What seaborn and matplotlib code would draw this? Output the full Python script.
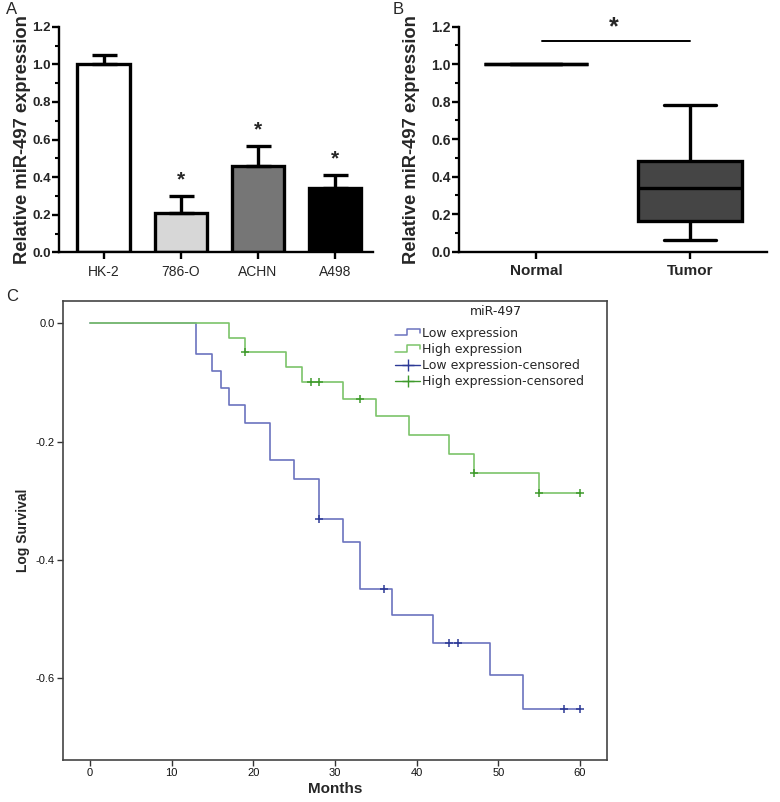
import numpy as np
import pandas as pd
import matplotlib
matplotlib.use("Agg")
import matplotlib.pyplot as plt
from matplotlib.ticker import AutoMinorLocator, MultipleLocator
from matplotlib.legend_handler import HandlerBase
from matplotlib.lines import Line2D
import seaborn as sns

# ---------------- data ----------------
# Panel A
cell_lines = ["HK-2", "786-O", "ACHN", "A498"]
cell_expr = [1.00, 0.21, 0.46, 0.34]
cell_err = [0.05, 0.09, 0.105, 0.07]
cell_sig = ["", "*", "*", "*"]
bar_colors = ["#ffffff", "#d7d7d7", "#767676", "#000000"]

# Panel B (five-number summaries)
tissue_groups = ["Normal", "Tumor"]
normal_summary = [1.0, 1.0, 1.0, 1.0, 1.0]
tumor_summary = [0.062, 0.165, 0.338, 0.483, 0.781]
box_colors = ["#ffffff", "#454545"]

# Panel C: Kaplan-Meier log survival
low_times = [0, 13, 15, 16, 17, 19, 22, 25, 28, 31, 33, 37, 42, 49, 53, 60]
low_logsurv = [0.0, -0.052, -0.081, -0.109, -0.138, -0.169, -0.230, -0.263,
               -0.331, -0.369, -0.449, -0.493, -0.541, -0.595, -0.652, -0.652]
low_censored = [28, 36, 44, 45, 58, 60]

high_times = [0, 17, 19, 24, 26, 31, 35, 39, 44, 47, 55, 60]
high_logsurv = [0.0, -0.024, -0.048, -0.073, -0.099, -0.127, -0.157, -0.188,
                -0.220, -0.253, -0.287, -0.287]
high_censored = [19, 27, 28, 33, 47, 55, 60]

month_ticks = [0, 10, 20, 30, 40, 50, 60]
logsurv_ticks = [0.0, -0.2, -0.4, -0.6]

low_line, high_line = "#6b73bf", "#7cc46a"
low_cens_c, high_cens_c = "#2d3a96", "#3f9a2c"

# ---------------- figure ----------------
sns.set_theme(style="white")
plt.rcParams["font.family"] = ["Liberation Sans", "DejaVu Sans"]

fig = plt.figure(figsize=(7.8, 8.02), dpi=100)
fig.patch.set_facecolor("white")

axA = fig.add_axes([0.0756, 0.6854, 0.4026, 0.2813])
axB = fig.add_axes([0.5885, 0.6862, 0.3945, 0.2806])
axC = fig.add_axes([0.0808, 0.0524, 0.6974, 0.5723])

# ---------- Panel A ----------
dfA = pd.DataFrame({"line": cell_lines, "expr": cell_expr})
sns.barplot(data=dfA, x="line", y="expr", hue="line", palette=bar_colors,
            legend=False, errorbar=None, width=0.68, saturation=1,
            edgecolor="black", linewidth=2.4, ax=axA)
xpos = np.arange(len(cell_lines))
axA.errorbar(xpos, cell_expr, yerr=[np.zeros(len(cell_err)), cell_err],
             fmt="none", ecolor="black", elinewidth=2.4, capsize=9,
             capthick=2.4, zorder=1)
for x, v, e, s in zip(xpos, cell_expr, cell_err, cell_sig):
    if s:
        axA.text(x, v + e + 0.085, s, ha="center", va="center",
                 fontsize=15, fontweight="bold")
axA.set_xlim(-0.58, 3.49)
axA.set_ylim(0, 1.2)

# ---------- Panel B ----------
dfB = pd.DataFrame({
    "group": ["Normal"] * len(normal_summary) + ["Tumor"] * len(tumor_summary),
    "value": normal_summary + tumor_summary,
})
sns.boxplot(data=dfB, x="group", y="value", hue="group",
            palette=box_colors, legend=False, whis=(0, 100), width=0.68,
            saturation=1, linecolor="black", linewidth=2.4, ax=axB)
axB.set_xlim(-0.5, 1.5)
axB.set_ylim(0, 1.2)
axB.plot([0.04, 1.0], [1.125, 1.125], color="black", lw=1.4, clip_on=False)
axB.text(0.505, 1.195, "*", ha="center", va="center", fontsize=18,
         fontweight="bold", clip_on=False)

for ax, ytick_fs, xtick_fs, xbold, lab_x in [(axA, 9.5, 10, "normal", -0.09),
                                              (axB, 10, 11, "bold", -0.127)]:
    sns.despine(ax=ax)
    for sp in ["left", "bottom"]:
        ax.spines[sp].set_linewidth(1.7)
        ax.spines[sp].set_color("black")
    ax.yaxis.set_major_locator(MultipleLocator(0.2))
    ax.yaxis.set_minor_locator(AutoMinorLocator(2))
    ax.set_yticks([0, 0.2, 0.4, 0.6, 0.8, 1.0, 1.2])
    ax.set_yticklabels(["0.0", "0.2", "0.4", "0.6", "0.8", "1.0", "1.2"],
                       fontweight="bold", fontsize=ytick_fs)
    ax.tick_params(axis="y", which="major", direction="out", length=5,
                   width=1.7, color="black", left=True, pad=1)
    ax.tick_params(axis="y", which="minor", direction="out", length=3,
                   width=1.5, color="black", left=True)
    ax.tick_params(axis="x", which="major", direction="out", length=5,
                   width=1.7, color="black", bottom=True, pad=4,
                   labelsize=xtick_fs)
    for lab in ax.get_xticklabels():
        lab.set_fontweight(xbold)
    ax.set_xlabel("")
    ax.set_ylabel("Relative miR-497 expression", fontsize=13.2,
                  fontweight="bold")
    ax.yaxis.set_label_coords(lab_x, 0.5)
    ax.set_facecolor("white")

# ---------- Panel C ----------
def step_level(times, levels, t):
    idx = np.searchsorted(np.asarray(times), t, side="right") - 1
    return np.asarray(levels)[idx]

dfLow = pd.DataFrame({"Months": low_times, "LogSurv": low_logsurv})
dfHigh = pd.DataFrame({"Months": high_times, "LogSurv": high_logsurv})
sns.lineplot(data=dfLow, x="Months", y="LogSurv", drawstyle="steps-post",
             color=low_line, lw=1.2, estimator=None, sort=False, ax=axC)
sns.lineplot(data=dfHigh, x="Months", y="LogSurv", drawstyle="steps-post",
             color=high_line, lw=1.2, estimator=None, sort=False, ax=axC)

dfLowC = pd.DataFrame({"Months": low_censored,
                       "LogSurv": step_level(low_times, low_logsurv, low_censored)})
dfHighC = pd.DataFrame({"Months": high_censored,
                        "LogSurv": step_level(high_times, high_logsurv, high_censored)})
sns.scatterplot(data=dfLowC, x="Months", y="LogSurv", marker="+", s=40,
                color=low_cens_c, linewidth=1.1, ax=axC, zorder=3)
sns.scatterplot(data=dfHighC, x="Months", y="LogSurv", marker="+", s=40,
                color=high_cens_c, linewidth=1.1, ax=axC, zorder=3)

axC.set_xlim(-3.3, 63.3)
axC.set_ylim(-0.738, 0.038)
axC.set_xticks(month_ticks)
axC.set_yticks(logsurv_ticks)
axC.set_yticklabels(["0.0", "-0.2", "-0.4", "-0.6"])
narrow = ["Liberation Sans Narrow", "Liberation Sans", "DejaVu Sans"]
for lab in axC.get_xticklabels() + axC.get_yticklabels():
    lab.set_family(narrow)
    lab.set_fontsize(8)
axC.tick_params(axis="both", which="major", direction="out", length=4,
                width=1.0, color="#333333", left=True, bottom=True, pad=2,
                labelcolor="#111111")
for sp in axC.spines.values():
    sp.set_linewidth(1.2)
    sp.set_color("#444444")
    sp.set_visible(True)
axC.set_xlabel("Months", fontsize=11, fontweight="bold", labelpad=3)
axC.set_ylabel("Log Survival", fontsize=10, fontweight="bold")
axC.yaxis.set_label_coords(-0.061, 0.5)
axC.set_facecolor("white")


class StepHandler(HandlerBase):
    def __init__(self, color):
        super().__init__()
        self.color = color

    def create_artists(self, legend, orig_handle, xdescent, ydescent,
                       width, height, fontsize, trans):
        x0, y0 = -xdescent, -ydescent
        xs = [x0, x0 + 0.48 * width, x0 + 0.48 * width, x0 + width, x0 + width]
        ys = [y0 + 0.15 * height, y0 + 0.15 * height, y0 + 0.85 * height,
              y0 + 0.85 * height, y0 + 0.4 * height]
        ln = Line2D(xs, ys, color=self.color, lw=1.1, transform=trans)
        return [ln]


h_low = Line2D([], [], color=low_line)
h_high = Line2D([], [], color=high_line)
h_lowc = Line2D([], [], color=low_cens_c, marker="+", markersize=9, lw=1.0,
                markeredgewidth=1.0)
h_highc = Line2D([], [], color=high_cens_c, marker="+", markersize=9, lw=1.0,
                 markeredgewidth=1.0)
leg = axC.legend([h_low, h_high, h_lowc, h_highc],
                 ["Low expression", "High expression",
                  "Low expression-censored", "High expression-censored"],
                 handler_map={h_low: StepHandler(low_line),
                              h_high: StepHandler(high_line)},
                 loc="upper left", bbox_to_anchor=(0.611, 0.944),
                 frameon=False, handlelength=2.0, handletextpad=0.1,
                 labelspacing=0.25, borderaxespad=0, borderpad=0,
                 prop={"family": "DejaVu Sans", "size": 9})
axC.text(0.796, 0.977, "miR-497", transform=axC.transAxes, ha="center",
         va="center", fontsize=9, family="DejaVu Sans", color="#222222")

# panel letters
fig.text(0.008, 0.988, "A", fontsize=12, va="center", ha="left")
fig.text(0.503, 0.988, "B", fontsize=12, va="center", ha="left")
fig.text(0.008, 0.630, "C", fontsize=12, va="center", ha="left")

fig.savefig("out.png", dpi=100, facecolor="white")
